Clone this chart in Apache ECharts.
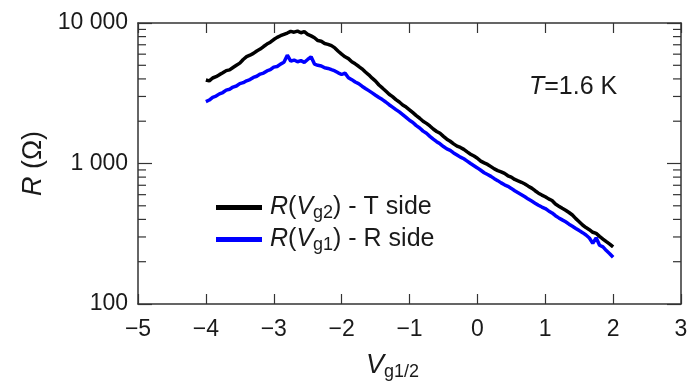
<!DOCTYPE html>
<html>
<head>
<meta charset="utf-8">
<script src="https://cdn.jsdelivr.net/npm/echarts@6/dist/echarts.min.js"></script>
<style>
html,body{margin:0;padding:0;background:#fff;}
#chart{width:689px;height:383px;}
</style>
</head>
<body>
<div id="chart"></div>
<script>
// Gate voltage V_g1/2 (x)
const vg = [-4.00,-3.95,-3.90,-3.85,-3.80,-3.75,-3.70,-3.65,-3.60,-3.55,-3.50,-3.45,-3.40,-3.35,-3.30,-3.25,-3.20,-3.15,-3.10,-3.05,
-3.00,-2.95,-2.90,-2.85,-2.80,-2.75,-2.70,-2.65,-2.60,-2.55,-2.50,-2.45,-2.40,-2.35,-2.30,-2.25,-2.20,-2.15,-2.10,-2.05,
-2.00,-1.95,-1.90,-1.85,-1.80,-1.75,-1.70,-1.65,-1.60,-1.55,-1.50,-1.45,-1.40,-1.35,-1.30,-1.25,-1.20,-1.15,-1.10,-1.05,
-1.00,-0.95,-0.90,-0.85,-0.80,-0.75,-0.70,-0.65,-0.60,-0.55,-0.50,-0.45,-0.40,-0.35,-0.30,-0.25,-0.20,-0.15,-0.10,-0.05,
0.00,0.05,0.10,0.15,0.20,0.25,0.30,0.35,0.40,0.45,0.50,0.55,0.60,0.65,0.70,0.75,0.80,0.85,0.90,0.95,
1.00,1.05,1.10,1.15,1.20,1.25,1.30,1.35,1.40,1.45,1.50,1.55,1.60,1.65,1.70,1.75,1.80,1.85,1.90,1.95,2.00];

// R(Vg2) - T side (black), Ohm
const rT = [3930,3870,4060,4150,4290,4420,4580,4640,4820,5000,5180,5500,5760,5900,6080,6320,6520,6800,7080,7300,
7620,7900,8120,8300,8480,8720,8600,8750,8520,8680,8300,8100,7850,7500,7420,7150,7050,6900,6650,6300,
6000,5750,5580,5300,5120,4920,4720,4480,4280,4050,3860,3620,3450,3280,3110,2990,2850,2740,2610,2520,
2410,2300,2190,2100,2000,1930,1850,1760,1690,1640,1560,1490,1440,1380,1330,1300,1260,1210,1165,1130,
1090,1040,1010,985,950,915,890,872,850,818,800,770,752,735,715,690,668,640,615,596,
580,560,545,515,497,480,465,448,430,405,385,365,350,338,324,318,303,290,278,267,255];

// R(Vg1) - R side (blue), Ohm
const rR = [2760,2830,2960,3020,3130,3200,3330,3380,3500,3560,3700,3760,3880,3960,4100,4180,4330,4400,4560,4650,
4850,4900,5100,5250,5900,5350,5450,5300,5400,5250,5500,5750,5100,5000,4950,4800,4750,4650,4560,4420,
4300,4400,4080,3950,3800,3700,3550,3420,3300,3180,3060,2950,2850,2740,2620,2520,2420,2330,2230,2130,
2030,1960,1860,1790,1700,1640,1560,1490,1430,1380,1320,1270,1240,1190,1150,1110,1080,1040,1000,965,
930,895,860,835,810,780,755,728,705,688,665,640,620,600,580,558,540,522,505,490,
478,460,445,425,410,397,385,370,358,345,333,322,310,295,270,296,262,255,240,228,215];

// Minor tick values of the log axis
const minorTickValues = [200,300,400,500,600,700,800,900,2000,3000,4000,5000,6000,7000,8000,9000];

const seriesNames = ['T side', 'R side'];

const FONT = '"Liberation Sans", Arial, sans-serif';
const TXT = '#1a1a1a';
const AX = '#333';

const chart = echarts.init(document.getElementById('chart'), null, {renderer: 'canvas'});

const fmtY = v => String(Math.round(v)).replace(/\B(?=(\d{3})+(?!\d))/g, ' ');
const fmtX = v => String(v).replace('-', '\u2212');

const option = {
  backgroundColor: '#fff',
  animation: false,
  grid: {left: 138, right: 8, top: 23, bottom: 79, outerBoundsMode: 'none'},
  title: {
    text: '{i|T}=1.6 K',
    left: 529, top: 75, padding: 0,
    textStyle: {
      fontFamily: FONT, fontSize: 25, fontWeight: 'normal', color: TXT,
      rich: {i: {fontFamily: FONT, fontSize: 25, fontStyle: 'italic', color: TXT}}
    }
  },
  legend: {
    orient: 'vertical',
    left: 216, top: 195, padding: 0,
    itemWidth: 46, itemHeight: 5, itemGap: 5,
    icon: 'rect',
    data: [seriesNames[0], seriesNames[1]],
    formatter: function (name) {
      return name === seriesNames[0]
        ? '{i|R}({i|V}{s|g2}) - T side'
        : '{i|R}({i|V}{s|g1}) - R side';
    },
    textStyle: {
      fontFamily: FONT, fontSize: 25, color: TXT, padding: [0, 0, 0, 3],
      rich: {
        i: {fontFamily: FONT, fontSize: 25, fontStyle: 'italic', color: TXT},
        s: {fontFamily: FONT, fontSize: 18, color: TXT, padding: [11, 0, 0, 0]}
      }
    }
  },
  xAxis: [{
    type: 'value', min: -5, max: 3, interval: 1, position: 'bottom',
    name: '{i|V}{s|g1/2}', nameLocation: 'middle', nameGap: 45,
    nameTextStyle: {
      fontFamily: FONT, fontSize: 26, color: TXT, padding: [0, 34, 0, 0],
      rich: {
        i: {fontFamily: FONT, fontSize: 27, fontStyle: 'italic', color: TXT},
        s: {fontFamily: FONT, fontSize: 18, color: TXT, padding: [14, 0, 0, 0]}
      }
    },
    axisLine: {show: true, onZero: false, lineStyle: {color: AX, width: 1.5}},
    axisTick: {show: true, inside: true, length: 10, lineStyle: {color: AX, width: 1.2}},
    axisLabel: {fontFamily: FONT, fontSize: 23, color: TXT, margin: 14, formatter: fmtX},
    splitLine: {show: false}
  }, {
    type: 'value', min: -5, max: 3, interval: 1, position: 'top',
    axisLine: {show: true, onZero: false, lineStyle: {color: AX, width: 1.5}},
    axisTick: {show: true, inside: true, length: 10, lineStyle: {color: AX, width: 1.2}},
    axisLabel: {show: false},
    splitLine: {show: false}
  }],
  yAxis: [{
    type: 'log', logBase: 10, min: 100, max: 10000, position: 'left',
    name: '{i|R} (\u03a9)', nameLocation: 'middle', nameRotate: 90, nameGap: 79,
    nameTextStyle: {
      fontFamily: FONT, fontSize: 27, color: TXT,
      rich: {i: {fontFamily: FONT, fontSize: 27, fontStyle: 'italic', color: TXT}}
    },
    axisLine: {show: true, onZero: false, lineStyle: {color: AX, width: 1.5}},
    axisTick: {show: true, inside: true, length: 14, lineStyle: {color: AX, width: 1.2}},
    axisLabel: {fontFamily: FONT, fontSize: 23, color: TXT, margin: 10, formatter: fmtY},
    splitLine: {show: false}
  }, {
    type: 'log', logBase: 10, min: 100, max: 10000, position: 'right',
    axisLine: {show: true, onZero: false, lineStyle: {color: AX, width: 1.5}},
    axisTick: {show: true, inside: true, length: 14, lineStyle: {color: AX, width: 1.2}},
    axisLabel: {show: false},
    splitLine: {show: false}
  }],
  series: [{
    name: seriesNames[0], type: 'line', xAxisIndex: 0, yAxisIndex: 0,
    data: vg.map((x, i) => [x, rT[i]]),
    showSymbol: false, symbol: 'none',
    lineStyle: {color: '#000', width: 3.5},
    itemStyle: {color: '#000'},
    z: 3
  }, {
    name: seriesNames[1], type: 'line', xAxisIndex: 0, yAxisIndex: 0,
    data: vg.map((x, i) => [x, rR[i]]),
    showSymbol: false, symbol: 'none',
    lineStyle: {color: '#0000ff', width: 3.5},
    itemStyle: {color: '#0000ff'},
    z: 4
  }, {
    name: 'minorTicks', type: 'custom', xAxisIndex: 0, yAxisIndex: 0,
    silent: true, clip: false, z: 2,
    data: minorTickValues.map(v => [0, v]),
    renderItem: function (params, api) {
      const cs = params.coordSys;
      const y = api.coord([0, api.value(1)])[1];
      const style = {stroke: AX, lineWidth: 1.2};
      return {
        type: 'group',
        children: [
          {type: 'line', shape: {x1: cs.x, y1: y, x2: cs.x + 8, y2: y}, style: style},
          {type: 'line', shape: {x1: cs.x + cs.width - 8, y1: y, x2: cs.x + cs.width, y2: y}, style: style}
        ]
      };
    }
  }]
};
chart.setOption(option);
</script>
</body>
</html>
